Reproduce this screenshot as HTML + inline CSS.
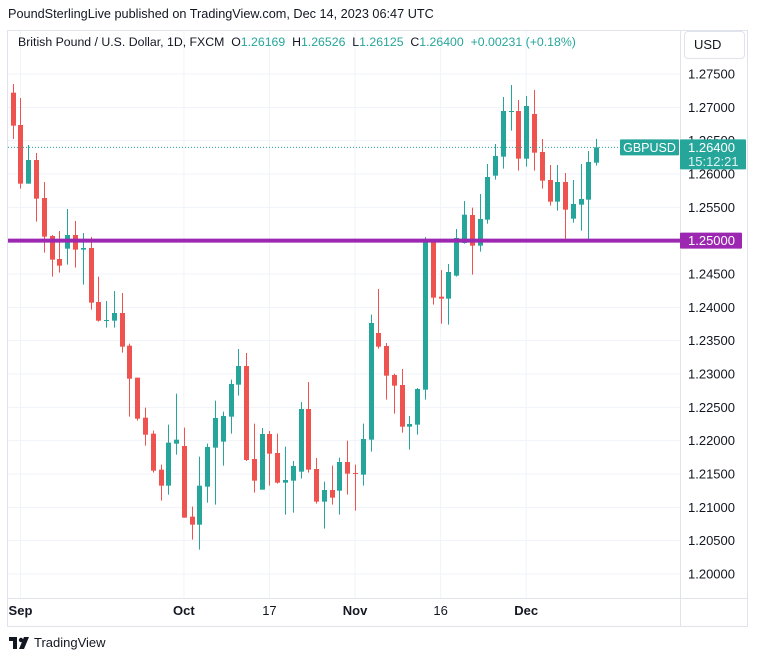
<!DOCTYPE html>
<html><head><meta charset="utf-8"><style>
body{margin:0;width:760px;height:660px;background:#fff;font-family:"Liberation Sans",sans-serif;overflow:hidden;position:relative}
svg{position:absolute;left:0;top:0}
</style></head><body>
<svg id="chart" width="760" height="660"></svg>
<script>
const opens=[1.27220,1.26735,1.25855,1.26210,1.25640,1.25070,1.24725,1.24880,1.25085,1.24865,1.24890,1.24080,1.23800,1.23800,1.23915,1.23425,1.22945,1.22345,1.22105,1.21565,1.21325,1.21955,1.21920,1.20860,1.20740,1.21310,1.21895,1.21985,1.22360,1.22840,1.23120,1.21725,1.21265,1.22100,1.21815,1.21370,1.21400,1.21535,1.22475,1.21575,1.21085,1.21260,1.21250,1.21680,1.21515,1.21490,1.22015,1.23615,1.23420,1.22985,1.22835,1.22210,1.22240,1.22765,1.24985,1.24160,1.24130,1.24475,1.24965,1.25385,1.24925,1.25315,1.25975,1.26260,1.26935,1.26945,1.26230,1.26900,1.26330,1.25910,1.25585,1.25880,1.25330,1.25540,1.25615,1.26169];
const highs=[1.27350,1.27140,1.26435,1.26315,1.25880,1.25085,1.25145,1.25475,1.25295,1.25115,1.25055,1.24460,1.24095,1.24245,1.24215,1.23455,1.22945,1.22495,1.22150,1.21640,1.22240,1.22705,1.22195,1.21010,1.21760,1.21955,1.22600,1.22435,1.22915,1.23375,1.23315,1.22255,1.22190,1.22145,1.22105,1.21910,1.21695,1.22580,1.22880,1.21740,1.21385,1.21625,1.21745,1.22000,1.21640,1.22255,1.23890,1.24275,1.23465,1.23005,1.23075,1.22370,1.22790,1.25055,1.25000,1.24560,1.24650,1.25175,1.25595,1.25495,1.25700,1.26150,1.26450,1.27155,1.27335,1.27110,1.27170,1.27260,1.26525,1.26135,1.26135,1.26015,1.25910,1.26150,1.26345,1.26526];
const lows=[1.26525,1.25780,1.25855,1.25285,1.24820,1.24460,1.24520,1.24640,1.24595,1.24340,1.23965,1.23785,1.23695,1.23695,1.23320,1.22360,1.22300,1.21925,1.21520,1.21100,1.21190,1.21790,1.20845,1.20515,1.20365,1.21070,1.21040,1.21625,1.22105,1.22675,1.21695,1.21220,1.21265,1.21325,1.21355,1.20890,1.20920,1.21430,1.21520,1.21055,1.20680,1.21040,1.20890,1.21190,1.20950,1.21325,1.21835,1.23380,1.22615,1.22405,1.22120,1.21865,1.22090,1.22615,1.24040,1.23755,1.23740,1.24460,1.24955,1.24490,1.24835,1.25255,1.25915,1.26080,1.26650,1.26050,1.26110,1.26050,1.25780,1.25525,1.25450,1.25030,1.25270,1.25150,1.25000,1.26125];
const closes=[1.26725,1.25855,1.26210,1.25630,1.25060,1.24715,1.24625,1.25085,1.24865,1.24890,1.24070,1.23800,1.23810,1.23915,1.23410,1.22930,1.22330,1.22090,1.21550,1.21325,1.21970,1.22015,1.20845,1.20740,1.21325,1.21905,1.22340,1.22370,1.22850,1.23120,1.21710,1.21400,1.22100,1.21805,1.21370,1.21410,1.21620,1.22475,1.21565,1.21085,1.21260,1.21145,1.21680,1.21505,1.21510,1.22025,1.23765,1.23410,1.22975,1.22825,1.22210,1.22250,1.22775,1.24985,1.24145,1.24130,1.24530,1.25040,1.25390,1.24925,1.25325,1.25955,1.26270,1.26945,1.26945,1.26230,1.27020,1.26320,1.25900,1.25585,1.25880,1.25465,1.25550,1.25625,1.26180,1.26400];
const priceTicks=[1.275,1.27,1.265,1.26,1.255,1.25,1.245,1.24,1.235,1.23,1.225,1.22,1.215,1.21,1.205,1.20];
const timeLabels=["Sep","Oct","17","Nov","16","Dec"];
const timeIndex=[1,22,33,44,55,66];
const hline=1.25;
const lastPrice=1.264;

const NS="http://www.w3.org/2000/svg";
const svg=document.getElementById('chart');
const y=p=>74+(1.275-p)*6666.67;
const x=i=>12.7+i*7.78;
function mk(tag,attrs,parent){const e=document.createElementNS(NS,tag);for(const k in attrs)e.setAttribute(k,attrs[k]);(parent||svg).appendChild(e);return e;}
function txt(s,attrs,parent){const e=mk('text',attrs,parent);e.textContent=s;return e;}

const grid=mk('g',{});


priceTicks.forEach(p=>{mk('line',{x1:8,x2:680,y1:y(p),y2:y(p),stroke:'#f0f3fa','stroke-width':1},grid);});
timeIndex.forEach(i=>{mk('line',{x1:x(i),x2:x(i),y1:31,y2:598,stroke:'#f0f3fa','stroke-width':1},grid);});

mk('rect',{x:7.5,y:30.5,width:740,height:596,fill:'none',stroke:'#e0e3eb'});
mk('line',{x1:680.5,x2:680.5,y1:30,y2:626,stroke:'#e0e3eb'});
mk('line',{x1:7,x2:747,y1:598.5,y2:598.5,stroke:'#e0e3eb'});

const cg=mk('g',{});


for(let i=0;i<opens.length;i++){
  const up=closes[i]>=opens[i];const col=up?'#26a69a':'#ef5350';
  const g=mk('g',{},cg);
  
  
  const cx=Math.round(x(i))+0.5;
  mk('line',{x1:cx,x2:cx,y1:y(highs[i]),y2:y(lows[i]),stroke:col,'stroke-width':1},g);
  const t=y(Math.max(opens[i],closes[i])),b=y(Math.min(opens[i],closes[i]));
  mk('rect',{x:cx-2.5,y:t,width:5,height:Math.max(1,b-t),fill:col},g);
}

const lp=mk('line',{x1:8,x2:680,y1:y(lastPrice),y2:y(lastPrice),stroke:'#26a69a','stroke-dasharray':'1,2','stroke-width':1});


const hl=mk('line',{x1:8,x2:680,y1:y(hline),y2:y(hline),stroke:'#9c27b0','stroke-width':4});



priceTicks.forEach(p=>{
  const t=txt(p.toFixed(5),{x:688,y:y(p)+4.5,'font-size':13,fill:'#131722'});
  
  
});
timeLabels.forEach((s,k)=>{
  const t=txt(s,{x:x(timeIndex[k]),y:615,'font-size':13,fill:'#131722','text-anchor':'middle','font-weight':(s==='17'||s==='16')?'normal':'bold'});
  
  
});

const yl=y(lastPrice);
mk('rect',{x:620,y:yl-8,width:59,height:16,fill:'#26a69a',rx:1});
txt('GBPUSD',{x:649.5,y:yl+4.5,'font-size':12.5,fill:'#fff','text-anchor':'middle'});
mk('rect',{x:680,y:yl-8,width:66,height:30,fill:'#26a69a',rx:1});
txt(lastPrice.toFixed(5),{x:688,y:yl+4.5,'font-size':13,fill:'#fff'});
txt('15:12:21',{x:688,y:yl+18.5,'font-size':13,fill:'#e0f2f1'});
const yh=y(hline);
mk('rect',{x:680,y:yh-8,width:62,height:16,fill:'#9c27b0',rx:1});
txt(hline.toFixed(5),{x:688,y:yh+4.5,'font-size':13,fill:'#fff'});
</script>
<div style="position:absolute;left:8px;top:7px;font-size:12.7px;color:#131722">PoundSterlingLive published on TradingView.com, Dec 14, 2023 06:47 UTC</div>
<div style="position:absolute;left:18px;top:35px;font-size:12.3px;color:#131722;white-space:nowrap">British Pound / U.S. Dollar, 1D, FXCM &nbsp;O<span style="color:#26a69a">1.26169</span> &nbsp;H<span style="color:#26a69a">1.26526</span> &nbsp;L<span style="color:#26a69a">1.26125</span> &nbsp;C<span style="color:#26a69a">1.26400</span> &nbsp;<span style="color:#26a69a">+0.00231 (+0.18%)</span></div>
<div style="position:absolute;left:684px;top:31px;width:59px;height:26px;border:1px solid #e0e3eb;border-radius:4px;background:#fff;font-size:13px;color:#131722;line-height:26px;text-indent:9px">USD</div>
<div style="position:absolute;left:9px;top:635px;font-size:13px;color:#131722;display:flex;align-items:center">
<svg width="22" height="14" style="position:static" viewBox="0 0 22 14"><rect x="0" y="1" width="8" height="4" fill="#131722"/><rect x="4" y="1" width="4" height="12" fill="#131722"/><circle cx="12" cy="4" r="2.2" fill="#131722"/><polygon points="15,1 20,1 15,13 10,13" fill="#131722"/></svg>
<span style="margin-left:3px">TradingView</span></div>
</body></html>
